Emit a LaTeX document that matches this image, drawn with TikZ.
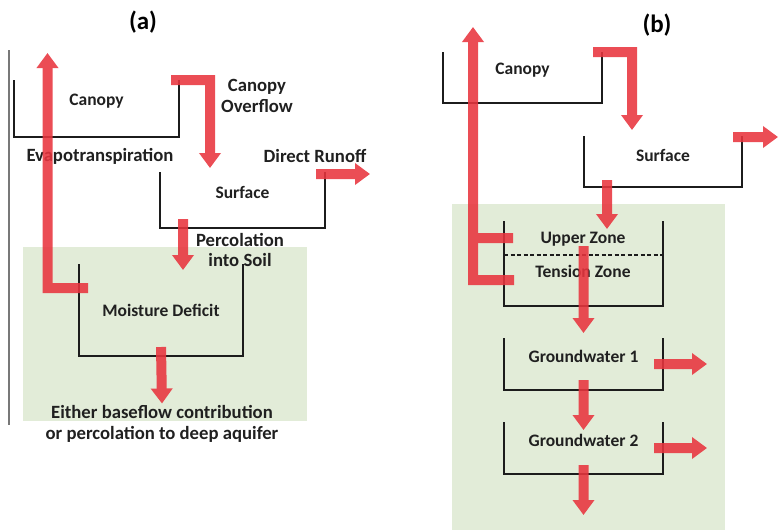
\documentclass[tikz,border=0pt]{standalone}
\usepackage{fontspec}
\setmainfont{Carlito}
\usepackage{tikz}
\usetikzlibrary{arrows.meta,positioning,calc}
\definecolor{inkWall}{RGB}{28, 28, 28}
\definecolor{inkText}{RGB}{32, 32, 32}
\definecolor{soilGreen}{RGB}{226, 236, 216}
\definecolor{flowRed}{RGB}{232, 52, 62}
\definecolor{frameGray}{RGB}{120, 120, 120}

\begin{document}
\begin{tikzpicture}[
      x=1pt, y=-1pt,
      zone/.style={fill=soilGreen, draw=none},
      tank/.style={inner sep=0pt, outer sep=0pt},
      wall/.style={draw=inkWall, line width=2pt},
      flow/.style={draw=flowRed, line width=10pt, -{Triangle[length=15pt, width=21pt]}},
      lbl/.style={font=\fontsize{17.5pt}{20pt}\selectfont\bfseries, text=inkText, inner sep=1pt},
      tag/.style={font=\fontsize{18.7pt}{20.5pt}\selectfont\bfseries, text=inkText, align=center, inner sep=1pt},
      title/.style={font=\fontsize{25pt}{27pt}\selectfont\bfseries, text=black}
  ]
      \useasboundingbox (0,0) rectangle (779,531);

      % PANEL (a)
      \node[title] (titleA) at (143, 22) {(a)};
      \draw[frameGray, line width=1.2pt] (9, 50) -- (9, 425);
      \fill[zone] (23, 247) rectangle (307, 421);

      \node[tank, minimum width=165pt, minimum height=57pt] (canA) at (96.5, 108.5) {};
      \node[tank, minimum width=165pt, minimum height=56pt] (surfA) at (242.5, 200) {};
      \node[tank, minimum width=164pt, minimum height=92pt] (moistA) at (161, 310) {};
      \draw[wall] (canA.north west) |- (canA.south east) -- (canA.north east);
      \draw[wall] (surfA.north west) |- (surfA.south east) -- (surfA.north east);
      \draw[wall] (moistA.north west) |- (moistA.south east) -- (moistA.north east);

      \node[lbl] (canAtxt) at ([yshift=7pt]canA.center) {Canopy};
      \node[lbl] (surfAtxt) at ([yshift=8pt]surfA.center) {Surface};
      \node[lbl] (moistAtxt) at (moistA.center) {Moisture Deficit};
      \node[tag] (overA) at (257, 96) {Canopy\\Overflow};
      \node[tag] (evapA) at (100, 156) {Evapotranspiration};
      \node[tag] (runA) at (315, 156) {Direct Runoff};
      \node[tag] (percA) at (240, 250) {Percolation\\into Soil};
      \node[tag] (outA) at (162, 424) {Either baseflow contribution\\or percolation to deep aquifer};

      \coordinate (skyA) at (47.5, 53);
      \coordinate (runoffA) at (370, 174);

      % PANEL (b)
      \node[title] (titleB) at (657, 25) {(b)};
      \fill[zone] (452, 204) rectangle (725, 530);

      \node[tank, minimum width=159pt, minimum height=51pt] (canB) at (522.5, 77.5) {};
      \node[tank, minimum width=158pt, minimum height=51pt] (surfB) at (663, 161.5) {};
      \node[tank, minimum width=159pt, minimum height=85pt] (zoneB) at (583.5, 263.5) {};
      \node[tank, minimum width=159pt, minimum height=52pt] (gw1B) at (583.5, 364) {};
      \node[tank, minimum width=159pt, minimum height=52pt] (gw2B) at (583.5, 448) {};
      \foreach \t in {canB, surfB, zoneB, gw1B, gw2B}
        \draw[wall] (\t.north west) |- (\t.south east) -- (\t.north east);
      \draw[inkWall, line width=1.2pt, dash pattern=on 4pt off 2.5pt]
        ($(zoneB.north west)+(0,34)$) -- ($(zoneB.north east)+(0,34)$);

      \node[lbl] (canBtxt) at ([yshift=7.5pt]canB.center) {Canopy};
      \node[lbl] (surfBtxt) at ([yshift=6.5pt]surfB.center) {Surface};
      \node[lbl] (upperB) at (583, 239) {Upper Zone};
      \node[lbl] (tensionB) at (583, 271) {Tension Zone};
      \node[lbl] (gw1Btxt) at ([yshift=8pt]gw1B.center) {Groundwater 1};
      \node[lbl] (gw2Btxt) at ([yshift=8pt]gw2B.center) {Groundwater 2};

      \coordinate (skyB) at (473, 27);
      \coordinate (runoffB) at (778, 137);
      \coordinate (base1B) at (707, 364);
      \coordinate (base2B) at (707, 448);
      \coordinate (deepB) at (583.5, 515);

      % FLOWS
      \begin{scope}[transparency group, opacity=0.88]
        \draw[flow] ([xshift=-8pt]canA.north east) -| ($(surfA.north west)+(50,-4)$);
        \draw[flow] ($(moistA.north west)+(9,24)$) -| (skyA);
        \draw[flow] ($(surfA.north east)+(-9,2)$) -- (runoffA);
        \draw[flow] ($(surfA.south)+(-59.5,-9)$) -- ($(moistA.north)+(22,6)$);
        \draw[flow] ($(moistA.south)+(0,-9)$) -- ($(outA.north)+(0,-1)$);

        \draw[flow] ($(zoneB.north west)+(10,59)$) -| (skyB);
        \draw[flow, -] ($(zoneB.north west)+(9,17)$) -- ($(zoneB.north west)+(-36,17)$);
        \draw[flow] ([xshift=-9pt]canB.north east) -| ($(surfB.north west)+(48,-6)$);
        \draw[flow] ($(surfB.north east)+(-9,1)$) -- (runoffB);
        \draw[flow] ($(surfB.south)+(-56,-7)$) -- ($(zoneB.north)+(23.5,8)$);
        \draw[flow] ($(zoneB.north)+(0,25)$) -- ($(gw1B.north)+(0,-5)$);
        \draw[flow] ([xshift=-9pt]gw1B.east) -- (base1B);
        \draw[flow] ($(gw1B.south)+(0,-10)$) -- ($(gw2B.north)+(0,8)$);
        \draw[flow] ([xshift=-9pt]gw2B.east) -- (base2B);
        \draw[flow] ($(gw2B.south)+(0,-9)$) -- (deepB);
      \end{scope}
  \end{tikzpicture}
\end{document}
